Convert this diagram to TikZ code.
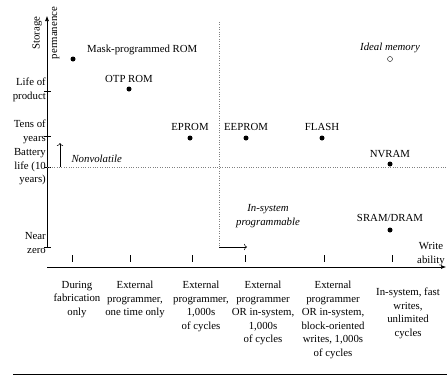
\documentclass[tikz,border=0pt]{standalone}
\usepackage{fontspec}
\setmainfont{Liberation Serif}
\usetikzlibrary{arrows.meta,positioning}

\begin{document}
\begin{tikzpicture}[x=1pt, y=-1pt,
		every node/.style={font=\fontsize{10.8}{13.5}\selectfont},
		dot/.style={circle, fill=black, inner sep=0pt, minimum size=5pt},
		hollow/.style={circle, draw=black, fill=white, thin, inner sep=0pt, minimum size=5pt},
		devlabel/.style={inner sep=0pt},
		ylabel/.style={align=right, anchor=east, inner sep=0pt},
		xlabel/.style={align=center, anchor=north, inner sep=0pt},
		guide/.style={dotted, gray, thin},
		axis/.style={semithick, -{Latex[length=5pt, width=4pt]}},
		]
		\useasboundingbox (0,0) rectangle (447,375);

		%Axes
		\coordinate (ybot) at (47,247);
		\coordinate (ytop) at (47,16);
		\coordinate (xleft) at (47,267);
		\coordinate (xright) at (446,267);
		\draw[axis] (ybot) -- (ytop);
		\draw[axis] (xleft) -- (xright);
		\node[align=center, rotate=90] (ytitle) at (46,33) {Storage\\[4pt]permanence};
		\node[align=center, inner sep=0pt] (xtitle) at (431,254) {Write\\ability};

		%Y ticks and labels
		\foreach \y in {91,136,167,247}
			\draw[semithick] (44,\y) -- (51,\y);
		\node[ylabel] (life)    at (46,90)  {Life of\\product};
		\node[ylabel] (tens)    at (46,132) {Tens of\\years};
		\node[ylabel] (battery) at (46,167) {Battery\\life (10\\years)};
		\node[ylabel] (near)    at (46,243) {Near\\zero};

		%X ticks and labels
		\foreach \x in {72,130,192,245,324,392}
			\draw[semithick] (\x,255) -- (\x,262);
		\node[xlabel] (fab)    at (77,281)  {During\\fabrication\\only};
		\node[xlabel] (once)   at (135,281) {External\\programmer,\\one time only};
		\node[xlabel] (ext)    at (201,281) {External\\programmer,\\1,000s\\of cycles};
		\node[xlabel] (extin)  at (263,281) {External\\programmer\\OR in-system,\\1,000s\\of cycles};
		\node[xlabel] (block)  at (333,281) {External\\programmer\\OR in-system,\\block-oriented\\writes, 1,000s\\of cycles};
		\node[xlabel] (fast)   at (408,288) {In-system, fast\\writes,\\unlimited\\cycles};

		%Guides
		\coordinate (hleft) at (47,167);
		\coordinate (hright) at (447,167);
		\coordinate (vtop) at (219,22);
		\coordinate (vbot) at (219,247);
		\draw[guide] (hleft) -- (hright);
		\draw[guide] (vtop) -- (vbot);

		%Nonvolatile
		\coordinate (nvfoot) at (60,167);
		\coordinate (nvhead) at (60,143);
		\draw[->, semithick] (nvfoot) -- (nvhead);
		\node[anchor=west, font=\fontsize{10.8}{13.5}\selectfont\itshape] (nonvol) at (68,159) {Nonvolatile};

		%In-system programmable
		\coordinate (isfoot) at (219,247);
		\coordinate (ishead) at (247,247);
		\draw[->, semithick] (isfoot) -- (ishead);
		\node[align=center, font=\fontsize{10.8}{13.5}\selectfont\itshape] (insys) at (268,216) {In-system\\programmable};

		%Memories
		\node[dot] (mask)   at (73,59)   {};
		\node[dot] (otp)    at (129,89)  {};
		\node[dot] (eprom)  at (190,138) {};
		\node[dot] (eeprom) at (246,138) {};
		\node[dot] (flash)  at (322,138) {};
		\node[dot] (nvram)  at (390,164) {};
		\node[dot] (sram)   at (390,230) {};
		\node[hollow] (ideal) at (390,59) {};
		\node[devlabel, anchor=west] (mask_l) at (87,50) {Mask-programmed ROM};
		\node[devlabel] (otp_l)    [above=3pt of otp]    {OTP ROM};
		\node[devlabel] (eprom_l)  [above=4pt of eprom]  {EPROM};
		\node[devlabel] (eeprom_l) [above=4pt of eeprom] {EEPROM};
		\node[devlabel] (flash_l)  [above=4pt of flash]  {FLASH};
		\node[devlabel] (nvram_l)  [above=3pt of nvram]  {NVRAM};
		\node[devlabel] (sram_l)   [above=5pt of sram]   {SRAM/DRAM};
		\node[devlabel, font=\fontsize{10.8}{13.5}\selectfont\itshape] (ideal_l) [above=3pt of ideal] {Ideal memory};

		%Bottom rule
		\coordinate (ruleleft) at (13,374);
		\coordinate (ruleright) at (447,374);
		\draw[semithick] (ruleleft) -- (ruleright);
	\end{tikzpicture}
\end{document}
